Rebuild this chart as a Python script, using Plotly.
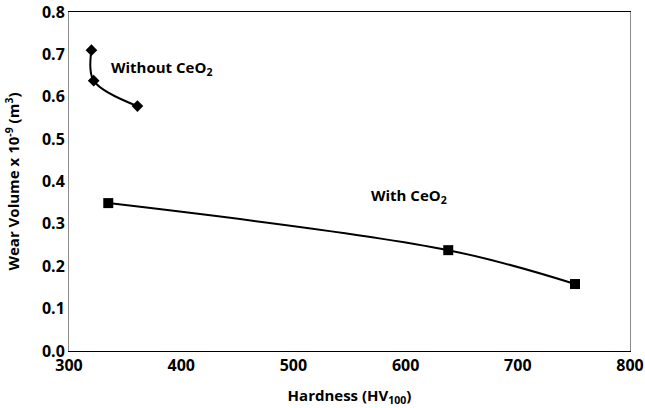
import plotly.graph_objects as go

# Wear volume vs. hardness for coatings with and without CeO2
hardness_without = [320, 322, 361]
wear_without = [0.71, 0.638, 0.578]

hardness_with = [335, 638, 751]
wear_with = [0.349, 0.238, 0.158]

x_ticks = [300, 400, 500, 600, 700, 800]
y_ticks = [0.0, 0.1, 0.2, 0.3, 0.4, 0.5, 0.6, 0.7, 0.8]

font_family = "Open Sans"


def bold_font(size):
    return dict(size=size, color="black", family=font_family, weight=700)


fig = go.Figure()
fig.add_trace(go.Scatter(
    x=hardness_without, y=wear_without, mode="lines+markers",
    line=dict(color="black", width=2, shape="spline", smoothing=1.0),
    marker=dict(symbol="diamond", size=9, color="black"),
    showlegend=False,
))
fig.add_trace(go.Scatter(
    x=hardness_with, y=wear_with, mode="lines+markers",
    line=dict(color="black", width=2, shape="spline", smoothing=1.0),
    marker=dict(symbol="square", size=10, color="black"),
    showlegend=False,
))

fig.add_annotation(x=336, y=0.668, text="Without CeO<sub>2</sub>", showarrow=False,
                   xanchor="left", yanchor="middle", font=bold_font(15))
fig.add_annotation(x=567, y=0.366, text="With CeO<sub>2</sub>", showarrow=False,
                   xanchor="left", yanchor="middle", font=bold_font(15))

fig.update_layout(
    width=645, height=408,
    margin=dict(l=69, r=15, t=12, b=57, autoexpand=False),
    paper_bgcolor="white", plot_bgcolor="white",
    font=bold_font(15),
    xaxis=dict(
        range=[300, 800], tickvals=x_ticks, ticktext=[str(v) for v in x_ticks],
        showgrid=False, zeroline=False, showline=True, linecolor="black", linewidth=1,
        mirror=True, ticks="", tickfont=bold_font(16), automargin=False,
        title=dict(text="Hardness (HV<sub>100</sub>)", font=bold_font(15), standoff=15),
    ),
    yaxis=dict(
        range=[0, 0.8], tickvals=y_ticks, ticktext=[f"{v:.1f}" for v in y_ticks],
        showgrid=False, zeroline=False, showline=True, linecolor="#8c8c8c", linewidth=1,
        mirror=True, ticks="", tickfont=bold_font(16), automargin=False,
        title=dict(text="Wear Volume x 10<sup>-9</sup> (m<sup>3</sup>)", font=bold_font(15), standoff=18),
    ),
)

fig.write_html("out.html")
